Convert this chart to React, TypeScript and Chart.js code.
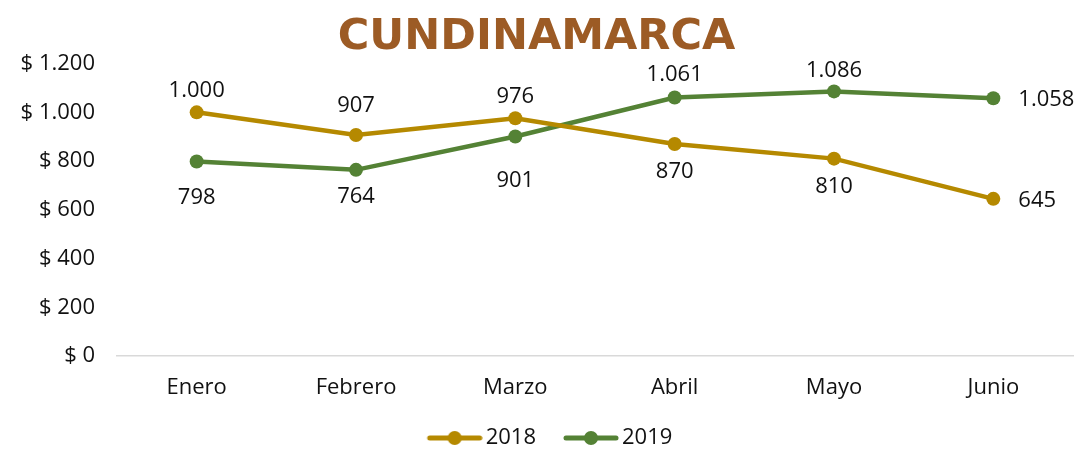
import React, { useEffect, useRef } from "react";
import { Chart, registerables } from "chart.js";

Chart.register(...registerables);

const categories = ["Enero", "Febrero", "Marzo", "Abril", "Mayo", "Junio"];
const values2018 = [1000, 907, 976, 870, 810, 645];
const values2019 = [798, 764, 901, 1061, 1086, 1058];
const yTicks = [0, 200, 400, 600, 800, 1000, 1200];

const GOLD = "#B58900";
const GREEN = "#548235";
const TITLE = "#9C5B25";
const FONT = "'Open Sans', 'Noto Sans', sans-serif";

// label placement (style only): dx, dy relative to the point
const labelPos2018 = [
  { dx: 0, dy: -22, align: "center" },
  { dx: 0, dy: -29, align: "center" },
  { dx: 0, dy: -21, align: "center" },
  { dx: 0, dy: 28, align: "center" },
  { dx: 0, dy: 28, align: "center" },
  { dx: 25, dy: 2, align: "left" },
];
const labelPos2019 = [
  { dx: 0, dy: 36, align: "center" },
  { dx: 0, dy: 27, align: "center" },
  { dx: 0, dy: 44, align: "center" },
  { dx: 0, dy: -23, align: "center" },
  { dx: 0, dy: -21, align: "center" },
  { dx: 25, dy: 2, align: "left" },
];

const SYMBOL_BLANK = 34;

function fmt(n: number): string {
  return String(Math.round(n)).replace(/\B(?=(\d{3})+(?!\d))/g, ".");
}

function legendSymbol(color: string): HTMLCanvasElement {
  const c = document.createElement("canvas");
  c.width = 56 + SYMBOL_BLANK;
  c.height = 16;
  const ctx = c.getContext("2d")!;
  const o = SYMBOL_BLANK;
  ctx.strokeStyle = color;
  ctx.lineWidth = 5;
  ctx.lineCap = "round";
  ctx.beginPath();
  ctx.moveTo(o + 3, 8);
  ctx.lineTo(o + 53, 8);
  ctx.stroke();
  ctx.fillStyle = color;
  ctx.beginPath();
  ctx.arc(o + 28, 8, 7, 0, Math.PI * 2);
  ctx.fill();
  return c;
}

const dataLabelPlugin = {
  id: "pointLabels",
  afterDatasetsDraw(chart: any) {
    const ctx = chart.ctx;
    const positions = [labelPos2018, labelPos2019];
    chart.data.datasets.forEach((ds: any, di: number) => {
      const meta = chart.getDatasetMeta(di);
      meta.data.forEach((pt: any, i: number) => {
        const p = positions[di][i];
        ctx.save();
        ctx.font = `22px ${FONT}`;
        ctx.fillStyle = "#111111";
        ctx.textAlign = p.align;
        ctx.textBaseline = "middle";
        ctx.fillText(fmt(ds.data[i]), pt.x + p.dx, pt.y + p.dy);
        ctx.restore();
      });
    });
  },
};

const bgPlugin = {
  id: "bg",
  beforeDraw(chart: any) {
    const ctx = chart.ctx;
    ctx.save();
    ctx.fillStyle = "#ffffff";
    ctx.fillRect(0, 0, chart.width, chart.height);
    ctx.restore();
  },
};

export default function App() {
  const ref = useRef<HTMLCanvasElement | null>(null);
  useEffect(() => {
    document.body.style.margin = "0";
    const sym2018 = legendSymbol(GOLD);
    const sym2019 = legendSymbol(GREEN);
    const chart = new Chart(ref.current!, {
      type: "line",
      data: {
        labels: categories,
        datasets: [
          {
            label: "2018",
            data: values2018,
            borderColor: GOLD,
            backgroundColor: GOLD,
            borderWidth: 4.5,
            pointRadius: 7,
            pointBackgroundColor: GOLD,
            pointBorderWidth: 0,
            pointStyle: "circle",
            tension: 0,
          } as any,
          {
            label: "2019",
            data: values2019,
            borderColor: GREEN,
            backgroundColor: GREEN,
            borderWidth: 4.5,
            pointRadius: 7,
            pointBackgroundColor: GREEN,
            pointBorderWidth: 0,
            pointStyle: "circle",
            tension: 0,
          } as any,
        ],
      },
      options: {
        responsive: false,
        animation: false,
        layout: { padding: { left: 0, right: 9, top: 0, bottom: -10 } },
        plugins: {
          title: {
            display: true,
            text: "CUNDINAMARCA",
            color: TITLE,
            font: { family: "'DejaVu Sans', sans-serif", size: 43, weight: "bold", lineHeight: 1.2 },
            padding: { top: 12, bottom: 0 },
          },
          legend: {
            display: true,
            position: "bottom",
            labels: {
              usePointStyle: true,
              pointStyleWidth: 40 + SYMBOL_BLANK,
              color: "#111111",
              font: { family: FONT, size: 22 },
              padding: 1,
              generateLabels: (ch: any) =>
                ch.data.datasets.map((ds: any, i: number) => ({
                  text: ds.label,
                  fillStyle: ds.borderColor,
                  strokeStyle: ds.borderColor,
                  lineWidth: 0,
                  pointStyle: i === 0 ? sym2018 : sym2019,
                  hidden: false,
                  datasetIndex: i,
                  fontColor: "#111111",
                })),
            },
          },
          tooltip: { enabled: false },
        },
        scales: {
          x: {
            offset: true,
            grid: { display: false, drawTicks: false },
            border: { display: true, color: "#d9d9d9", width: 1.5 },
            ticks: { color: "#111111", font: { family: FONT, size: 22 }, padding: 19 },
            afterFit: (s: any) => {
              s.height = 70;
            },
          },
          y: {
            min: 0,
            max: 1200,
            afterBuildTicks: (s: any) => {
              s.ticks = yTicks.map((v) => ({ value: v }));
            },
            afterFit: (s: any) => {
              s.width = 117;
            },
            grid: { display: false, drawTicks: false },
            border: { display: false },
            ticks: {
              color: "#111111",
              font: { family: FONT, size: 22 },
              padding: 22,
              callback: (v: any) => "$ " + fmt(Number(v)),
            },
          },
        },
      },
      plugins: [bgPlugin, dataLabelPlugin],
    });
    return () => chart.destroy();
  }, []);
  return <canvas ref={ref} width={1082} height={449} style={{ display: "block" }} />;
}
